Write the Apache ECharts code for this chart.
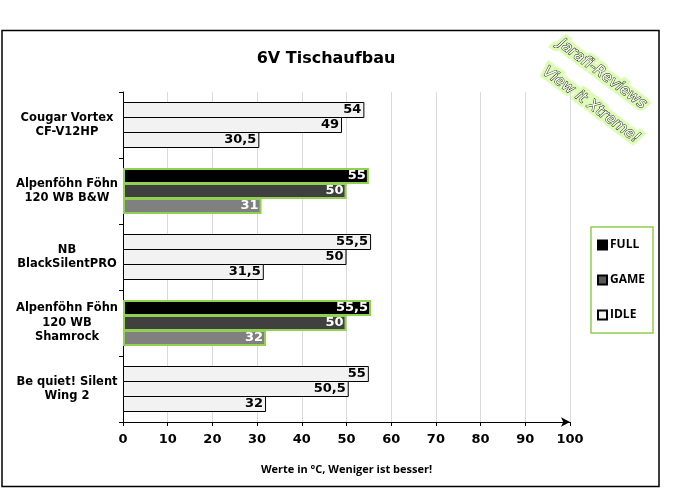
<!DOCTYPE html>
<html>
<head>
<meta charset="utf-8">
<script src="https://cdn.jsdelivr.net/npm/echarts@6/dist/echarts.min.js"></script>
<style>
html, body { margin: 0; padding: 0; background: #fff; }
#chart { width: 694px; height: 489px; }
</style>
</head>
<body>
<div id="chart"></div>
<script>
// Kühler, von oben nach unten
var categories = ['Cougar Vortex\nCF-V12HP', 'Alpenföhn Föhn\n120 WB B&W', 'NB\nBlackSilentPRO', 'Alpenföhn Föhn\n120 WB\nShamrock', 'Be quiet! Silent\nWing 2'];
var fullValues = [54, 55, 55.5, 55.5, 55];
var gameValues = [49, 50, 50, 50, 50.5];
var idleValues = [30.5, 31, 31.5, 32, 32];
// die getesteten Kühler werden hervorgehoben
var highlighted = [false, true, false, true, false];
var xTicks = [0, 10, 20, 30, 40, 50, 60, 70, 80, 90, 100];

var FONT = 'DejaVu Sans';
var GREEN = '#92d050';
var LIGHT = '#f2f2f2';

function buildData(values, darkColor) {
    return values.map(function (v, i) {
        if (highlighted[i]) {
            return {
                value: v,
                itemStyle: { color: darkColor, borderColor: GREEN, borderWidth: 2 },
                label: { color: '#fff' }
            };
        }
        return { value: v, itemStyle: { color: LIGHT, borderColor: '#000', borderWidth: 1 } };
    });
}

function makeSeries(name, values, legendColor, darkColor) {
    return {
        name: name,
        type: 'bar',
        barGap: '-6.25%', // Balken teilen sich eine Randlinie
        barWidth: 16,
        itemStyle: { color: legendColor, borderColor: '#000', borderWidth: 1 },
        label: {
            show: true,
            position: 'insideRight',
            distance: 3,
            color: '#000',
            fontFamily: FONT,
            fontWeight: 'bold',
            fontSize: 13,
            formatter: function (p) { return String(p.value).replace('.', ','); }
        },
        emphasis: { disabled: true },
        data: buildData(values, darkColor)
    };
}

function watermark(text, x, y) {
    var base = {
        text: text, fontFamily: FONT, fontStyle: 'italic', fontSize: 15,
        align: 'center', verticalAlign: 'middle'
    };
    return [
        {
            type: 'text', x: x, y: y, rotation: -0.64, silent: true,
            style: Object.assign({}, base, {
                fill: '#dcfcb4', stroke: '#dcfcb4', lineWidth: 7,
                shadowColor: '#9fe34f', shadowBlur: 14
            })
        },
        {
            type: 'text', x: x, y: y, rotation: -0.64, silent: true,
            style: Object.assign({}, base, { fill: '#fff', stroke: '#111', lineWidth: 0.9 })
        }
    ];
}

var myChart = echarts.init(document.getElementById('chart'), null, { renderer: 'canvas' });
myChart.setOption({
    animation: false,
    backgroundColor: '#fff',
    title: {
        text: '6V Tischaufbau',
        left: 321,
        top: 46,
        textAlign: 'center',
        textStyle: { fontFamily: FONT, fontWeight: 'bold', fontSize: 16, color: '#000' }
    },
    legend: {
        orient: 'vertical',
        left: 591,
        top: 227,
        padding: [12, 8, 12, 6],
        itemGap: 23,
        itemWidth: 9,
        itemHeight: 9,
        icon: 'rect',
        borderColor: GREEN,
        borderWidth: 1.5,
        textStyle: { fontFamily: 'Open Sans', fontWeight: 'bold', fontSize: 12, color: '#000', padding: [0, 0, 0, -2] },
        data: ['FULL', 'GAME', 'IDLE']
    },
    grid: { left: 123, top: 92, right: 124, bottom: 67, containLabel: false },
    xAxis: {
        type: 'value',
        min: 0,
        max: 100,
        interval: 10,
        name: 'Werte in °C, Weniger ist besser!',
        nameLocation: 'middle',
        nameGap: 42,
        nameTextStyle: { fontFamily: 'Open Sans', fontWeight: 'bold', fontSize: 11, color: '#000' },
        axisLine: { show: true, lineStyle: { color: '#000', width: 1 }, symbol: ['none', 'arrow'], symbolSize: [7, 9] },
        axisTick: { show: true, length: 4, lineStyle: { color: '#000' } },
        axisLabel: {
            fontFamily: FONT, fontWeight: 'bold', fontSize: 13, color: '#000', margin: 11,
            formatter: function (v) { return xTicks.indexOf(v) >= 0 ? String(v) : ''; }
        },
        splitLine: { show: true, lineStyle: { color: '#d9d9d9', width: 1 } }
    },
    yAxis: {
        type: 'category',
        inverse: true,
        data: categories,
        axisLine: { show: true, lineStyle: { color: '#000', width: 1 } },
        axisTick: { show: true, length: 4, lineStyle: { color: '#000' } },
        axisLabel: {
            fontFamily: FONT, fontWeight: 'bold', fontSize: 11.5, color: '#000',
            align: 'center', margin: 56, lineHeight: 14.5
        }
    },
    series: [
        makeSeries('FULL', fullValues, '#000', '#000'),
        makeSeries('GAME', gameValues, '#595959', '#404040'),
        makeSeries('IDLE', idleValues, LIGHT, '#808080')
    ],
    graphic: [
        {
            type: 'rect',
            shape: { x: 2, y: 30.5, width: 657, height: 456 },
            style: { fill: null, stroke: '#000', lineWidth: 1.5 },
            silent: true
        }
    ].concat(watermark('Jarafi-Reviews', 602, 74), watermark('View it Xtreme!', 591, 105))
});
</script>
</body>
</html>
